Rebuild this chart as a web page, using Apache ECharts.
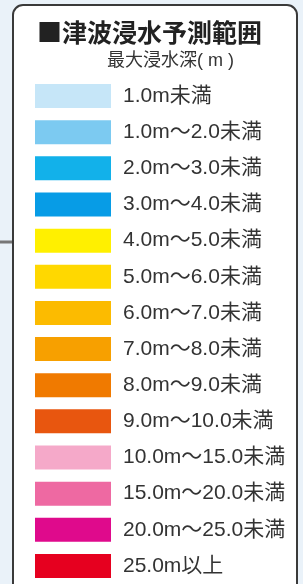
<!DOCTYPE html>
<html>
<head>
<meta charset="utf-8">
<script src="https://cdn.jsdelivr.net/npm/echarts@6/dist/echarts.min.js"></script>
<style>
html, body { margin: 0; padding: 0; background: #eaf2f9; }
#main { width: 303px; height: 584px; }
</style>
</head>
<body>
<div id="main"></div>
<script>
// 凡例の区分と色
var categories = [
  '1.0m未満', '1.0m〜2.0未満', '2.0m〜3.0未満', '3.0m〜4.0未満',
  '4.0m〜5.0未満', '5.0m〜6.0未満', '6.0m〜7.0未満', '7.0m〜8.0未満',
  '8.0m〜9.0未満', '9.0m〜10.0未満', '10.0m〜15.0未満', '15.0m〜20.0未満',
  '20.0m〜25.0未満', '25.0m以上'
];
var swatchColors = [
  '#c6e6f8', '#7ccaf1', '#12b1ea', '#079ce6',
  '#fff000', '#ffd800', '#fcbb00', '#f7a000',
  '#f07a00', '#e8560f', '#f5a9c9', '#ee69a2',
  '#df0a8c', '#e6001f'
];
var swatchValues = [1, 1, 1, 1, 1, 1, 1, 1, 1, 1, 1, 1, 1, 1];

var labelFont = '"Liberation Sans", "Noto Sans CJK JP", sans-serif';

var myChart = echarts.init(document.getElementById('main'));

var option = {
  backgroundColor: '#eaf2f9',
  animation: false,
  graphic: [{
    type: 'line',
    shape: { x1: 0, y1: 242, x2: 14, y2: 242 },
    style: { stroke: '#777', lineWidth: 3 },
    z: 0
  }, {
    type: 'rect',
    shape: { x: 13, y: 5, width: 284, height: 610, r: 10 },
    style: { fill: '#ffffff', stroke: '#3a3a3a', lineWidth: 2 },
    z: 0
  }, {
    type: 'text',
    left: 37, top: 20,
    style: {
      text: '■津波浸水予測範囲',
      fontSize: 25, fontWeight: 'bold',
      fontFamily: 'Noto Sans CJK JP',
      fill: '#222'
    },
    z: 10
  }, {
    type: 'text',
    left: 107, top: 52,
    style: {
      text: '最大浸水深( m )',
      fontSize: 18,
      fontFamily: labelFont,
      fill: '#333'
    },
    z: 10
  }],
  grid: { left: 35, top: 78, width: 76, height: 509 },
  xAxis: { type: 'value', min: 0, max: 1, show: false },
  yAxis: {
    type: 'category', inverse: true, data: categories, show: false
  },
  series: [{
    type: 'bar',
    barWidth: 24,
    data: swatchValues.map(function (v, i) {
      return { value: v, itemStyle: { color: swatchColors[i] } };
    }),
    label: {
      show: true,
      position: 'right',
      distance: 12,
      fontSize: 21,
      fontFamily: labelFont,
      color: '#333',
      formatter: function (p) { return categories[p.dataIndex]; }
    },
    z: 5
  }]
};
myChart.setOption(option);
</script>
</body>
</html>
